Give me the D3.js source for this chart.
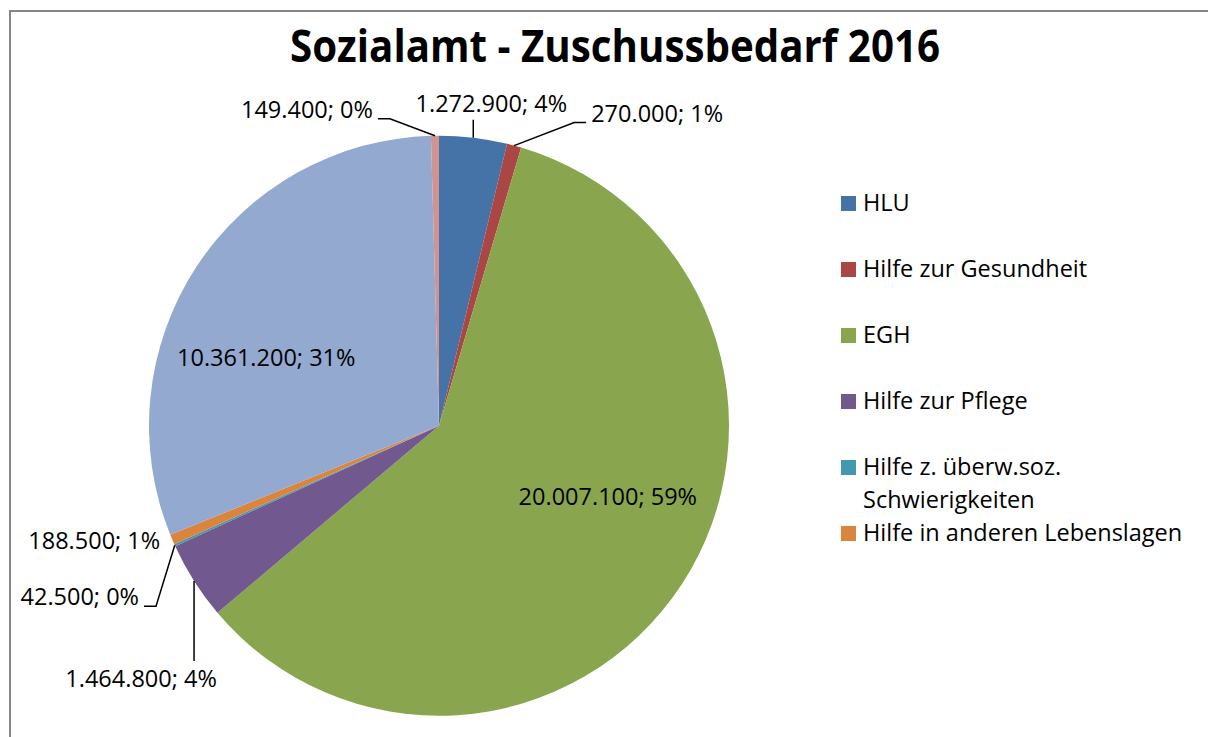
<!DOCTYPE html>
<html>
<head>
<meta charset="utf-8">
<script src="https://cdn.jsdelivr.net/npm/d3@7"></script>
<style>
  body { margin: 0; background: #fff; }
  text { font-family: "Open Sans", sans-serif; fill: #000; }
</style>
</head>
<body>
<svg id="chart"></svg>
<script>
let title = 'Sozialamt - Zuschussbedarf 2016'

let categories = ['HLU', 'Hilfe zur Gesundheit', 'EGH', 'Hilfe zur Pflege',
  'Hilfe z. überw.soz. Schwierigkeiten', 'Hilfe in anderen Lebenslagen',
  'Grundsicherung', 'Sonstiges']
let values = [1272900, 270000, 20007100, 1464800, 42500, 188500, 10361200, 149400]
let colors = ['#4572a7', '#aa4643', '#89a54e', '#71588f', '#4198af', '#db843d', '#93a9cf', '#d19392']

// Excel cut the legend off after six entries
let legendCount = 6

// label offset from the point where the slice's middle meets the rim, and whether it gets a leader line
let labelDx = [18, 143, -74, -53, -95, -78, 70, -128]
let labelDy = [-26, -24, -79, 106, 60, 9.5, 99, -18]
let hasLeader = [true, true, false, true, true, false, false, true]

let width = 1208
let height = 737
let cx = 439
let cy = 425.7
let radius = 290

let svg = d3.select('#chart')
  .attr('width', width)
  .attr('height', height)

// chart frame (right and bottom edges fall outside the picture)
svg.append('rect')
  .attr('x', 10).attr('y', 11)
  .attr('width', width + 20).attr('height', height + 20)
  .attr('fill', '#fff')
  .attr('stroke', '#868686')
  .attr('stroke-width', 2)

let titleText = svg.append('text')
  .text(title)
  .attr('x', 615)
  .attr('y', 62)
  .attr('text-anchor', 'middle')
  .style('font-size', '44px')
  .style('font-weight', 'bold')
if (titleText.node().getComputedTextLength() > 650) {
  titleText.attr('textLength', 650).attr('lengthAdjust', 'spacingAndGlyphs')
}

let de = d3.formatLocale({ decimal: ',', thousands: '.', grouping: [3], currency: ['', ' €'] })
let fmt = de.format(',d')
let total = d3.sum(values)

let pie = d3.pie().sort(null).value((d) => d)
let arcs = pie(values)
let arc = d3.arc().innerRadius(0).outerRadius(radius)
let rim = d3.arc().innerRadius(radius).outerRadius(radius)

let g = svg.append('g').attr('transform', 'translate(' + cx + ',' + cy + ')')

g.selectAll('path.slice')
  .data(arcs)
  .enter()
  .append('path')
  .attr('class', 'slice')
  .attr('d', arc)
  .attr('fill', (d, i) => colors[i])

arcs.forEach((a, i) => {
  let p = rim.centroid(a)
  let lx = p[0] + labelDx[i]
  let ly = p[1] + labelDy[i]
  let label = g.append('text')
    .text(fmt(values[i]) + '; ' + Math.round(values[i] / total * 100) + '%')
    .attr('x', lx)
    .attr('y', ly)
    .attr('text-anchor', 'middle')
    .style('font-size', '23.5px')

  if (!hasLeader[i]) return
  let box = label.node().getBBox()
  let path
  if (p[0] >= box.x && p[0] <= box.x + box.width) {
    let endY = p[1] > box.y + box.height ? box.y + box.height + 1 : box.y - 1
    path = 'M' + p[0] + ',' + p[1] + 'L' + p[0] + ',' + endY
  } else if (p[0] > box.x + box.width) {
    let sx = box.x + box.width + 5
    path = 'M' + p[0] + ',' + p[1] + 'L' + (sx + 12) + ',' + (ly + 1) + 'L' + sx + ',' + (ly + 1)
  } else {
    let sx = box.x - 5
    path = 'M' + p[0] + ',' + p[1] + 'L' + (sx - 12) + ',' + (ly + 1) + 'L' + sx + ',' + (ly + 1)
  }
  g.append('path')
    .attr('d', path)
    .attr('fill', 'none')
    .attr('stroke', '#000')
    .attr('stroke-width', 1.5)
})

// legend
let legend = svg.append('g').attr('transform', 'translate(841, 0)')
let lineY = 211
categories.slice(0, legendCount).forEach((name, i) => {
  let y = 211 + 66 * i
  legend.append('rect')
    .attr('x', 0).attr('y', y - 15)
    .attr('width', 15).attr('height', 15)
    .attr('fill', colors[i])
  let t = legend.append('text')
    .attr('x', 22).attr('y', y)
    .style('font-size', '23.5px')
  // wrap long entries the way Excel does
  let words = name.split(' ')
  let line = []
  let tspan = t.append('tspan').attr('x', 22).attr('y', y)
  let lineNo = 0
  words.forEach((w) => {
    line.push(w)
    tspan.text(line.join(' '))
    if (tspan.node().getComputedTextLength() > 330 && line.length > 1) {
      line.pop()
      tspan.text(line.join(' '))
      line = [w]
      lineNo++
      tspan = t.append('tspan').attr('x', 22).attr('y', y + 33 * lineNo).text(w)
    }
  })
})
</script>
</body>
</html>
